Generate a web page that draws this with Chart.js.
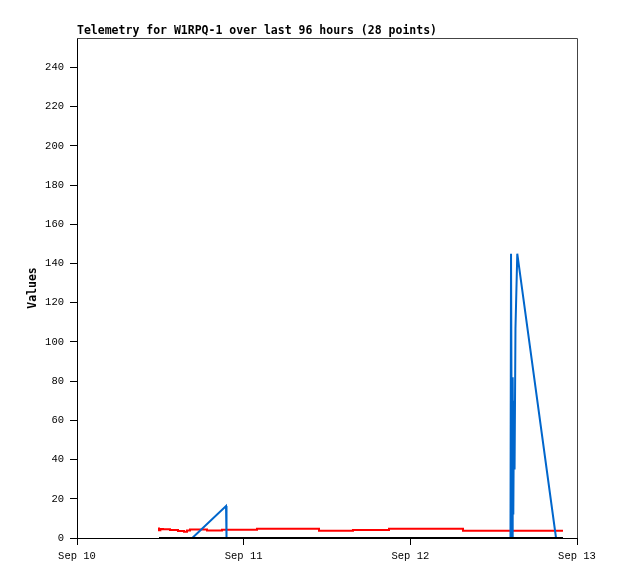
<!DOCTYPE html>
<html>
<head>
<meta charset="utf-8">
<script src="https://cdn.jsdelivr.net/npm/chart.js@4.4.1/dist/chart.umd.min.js"></script>
<style>
  body { margin: 0; background: #fff; }
  #wrap { width: 618px; height: 579px; }
</style>
</head>
<body>
<div id="wrap"><canvas id="myChart" width="618" height="579"></canvas></div>
<script>
const titleText = 'Telemetry for W1RPQ-1 over last 96 hours (28 points)';
const xTickLabels = ['Sep 10', 'Sep 11', 'Sep 12', 'Sep 13'];

// hours since Sep 10 00:00
const redHours = [11.81, 12.02, 12.38, 13.39, 14.54, 15.41, 15.84, 16.27, 18.72, 20.88,
                  25.92, 34.85, 39.74, 44.93, 55.58, 61.06, 69.98];
const redValues = [5.3, 3.9, 4.6, 4.4, 4.1, 3.6, 3.2, 3.8, 4.3, 3.8,
                   4.2, 4.75, 3.7, 4.1, 4.75, 3.7, 3.7];

const blueHours = [11.81, 16.6, 21.46, 21.53, 62.42, 62.5, 62.64, 62.74, 62.83,
                   62.93, 63.01, 63.14, 63.40, 68.98, 69.98];
const blueValues = [0, 0, 16.3, 0, 0, 145, 0, 82, 12, 70, 35, 107, 145, 0, 0];

const blackHours = [11.81, 69.98];
const blackValues = [0, 0];

function pts(xs, ys) {
    return xs.map((x, i) => ({ x: x, y: ys[i] }));
}

const framePlugin = {
    id: 'frame',
    afterDraw(chart) {
        const ctx = chart.ctx;
        const a = chart.chartArea;
        ctx.save();
        ctx.strokeStyle = '#444';
        ctx.lineWidth = 1;
        ctx.beginPath();
        ctx.moveTo(a.left, a.top + 0.5);
        ctx.lineTo(a.right + 0.5, a.top + 0.5);
        ctx.lineTo(a.right + 0.5, a.bottom);
        ctx.stroke();
        ctx.fillStyle = '#000';
        ctx.font = 'bold 11.5px "DejaVu Sans Mono"';
        ctx.textBaseline = 'alphabetic';
        ctx.textAlign = 'left';
        ctx.fillText(titleText, a.left, a.top - 4);
        ctx.restore();
    }
};

const tickFont = { family: '"Liberation Mono"', size: 10.5 };

const ctx = document.getElementById('myChart').getContext('2d');
const chart = new Chart(ctx, {
    type: 'line',
    data: {
        datasets: [{
            label: 'black',
            data: pts(blackHours, blackValues),
            borderColor: '#000',
            borderWidth: 2,
        }, {
            label: 'blue',
            data: pts(blueHours, blueValues),
            borderColor: '#0066cc',
            borderWidth: 2,
        }, {
            label: 'red',
            data: pts(redHours, redValues),
            borderColor: '#ff0000',
            borderWidth: 2,
            stepped: 'after',
        }]
    },
    options: {
        responsive: false,
        animation: false,
        elements: { point: { radius: 0 }, line: { tension: 0 } },
        layout: { padding: { top: 38, right: 41, left: 0, bottom: 0 } },
        plugins: {
            legend: { display: false },
            tooltip: { enabled: false },
        },
        scales: {
            x: {
                type: 'linear',
                position: 'bottom',
                min: 0,
                max: 72,
                afterFit(scale) { scale.height = 41; },
                afterBuildTicks(scale) {
                    scale.ticks = xTickLabels.map((t, i) => ({ value: i * 24 }));
                },
                ticks: {
                    color: '#000',
                    font: tickFont,
                    padding: 5,
                    maxRotation: 0,
                    callback: (v) => xTickLabels[Math.round(v / 24)],
                },
                grid: { drawOnChartArea: false, tickLength: 7, color: '#000' },
                border: { color: '#000', width: 1 },
            },
            y: {
                min: 0,
                max: 255,
                afterFit(scale) { scale.width = 77; },
                afterBuildTicks(scale) {
                    scale.ticks = scale.ticks.filter(t => t.value % 20 === 0);
                },
                ticks: {
                    stepSize: 20,
                    color: '#000',
                    font: tickFont,
                    padding: 6,
                },
                grid: { drawOnChartArea: false, tickLength: 7, color: '#000' },
                border: { color: '#000', width: 1 },
                title: {
                    display: true,
                    text: 'Values',
                    color: '#000',
                    font: { family: '"DejaVu Sans Mono"', size: 11.5, weight: 'bold' },
                    padding: { top: 26, bottom: 0 },
                },
            },
        },
    },
    plugins: [framePlugin],
});
</script>
</body>
</html>
